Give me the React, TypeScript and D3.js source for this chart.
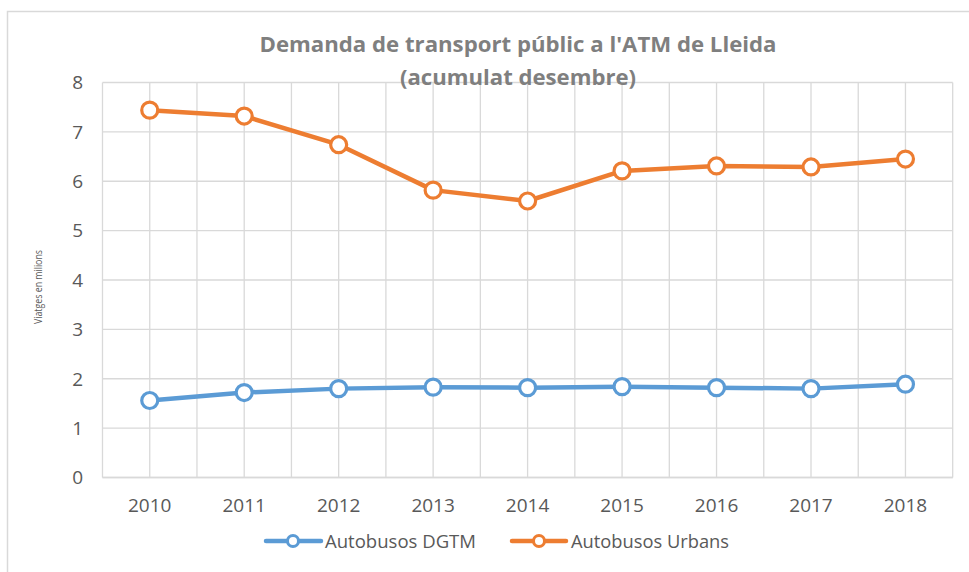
import React from "react";
import * as d3 from "d3";

const years = ["2010", "2011", "2012", "2013", "2014", "2015", "2016", "2017", "2018"];
const dgtm = [1.56, 1.72, 1.8, 1.83, 1.82, 1.84, 1.82, 1.8, 1.89];
const urbans = [7.44, 7.32, 6.74, 5.82, 5.6, 6.21, 6.31, 6.29, 6.45];
const yTicks = [0, 1, 2, 3, 4, 5, 6, 7, 8];
const titleLines = ["Demanda de transport públic a l'ATM de Lleida", "(acumulat desembre)"];
const yTitle = "Viatges en milions";
const seriesNames = ["Autobusos DGTM", "Autobusos Urbans"];

const W = 969;
const H = 572;
const plot = { left: 102.5, right: 952.7, top: 82.5, bottom: 477.5 };
const BLUE = "#5b9bd5";
const ORANGE = "#ed7d31";
const GRID = "#d9d9d9";
const TXT = "#595959";
const FONT = "'Open Sans', 'Noto Sans', sans-serif";

export default function App() {
  const x = d3.scaleBand<string>().domain(years).range([plot.left, plot.right]).padding(0);
  const y = d3.scaleLinear().domain([0, 8]).range([plot.bottom, plot.top]);
  const bw = x.bandwidth();
  const vLines: number[] = [];
  for (let k = 0; k <= years.length * 2; k++) vLines.push(plot.left + (k * bw) / 2);

  const line = d3
    .line<number>()
    .x((_, i) => (x(years[i]) as number) + bw / 2)
    .y((d) => y(d));

  const series = [
    { name: seriesNames[0], values: dgtm, color: BLUE },
    { name: seriesNames[1], values: urbans, color: ORANGE },
  ];

  const legend = [
    { x0: 266, x1: 321, mx: 293, tx: 325, tw: 151, color: BLUE, name: seriesNames[0] },
    { x0: 512, x1: 566, mx: 539, tx: 571, tw: 158, color: ORANGE, name: seriesNames[1] },
  ];

  return (
    <svg
      width={W}
      height={H}
      style={{ position: "absolute", left: 0, top: 0, background: "#fff" }}
      fontFamily={FONT}
    >
      <rect x={0} y={0} width={W} height={H} fill="#fff" />
      <path d={`M7.5,${H + 5}V11.5H${W + 5}`} fill="none" stroke={GRID} strokeWidth={1.5} />

      {/* gridlines */}
      {yTicks.map((t) => (
        <line key={"h" + t} x1={plot.left} x2={plot.right} y1={y(t)} y2={y(t)} stroke={GRID} strokeWidth={1.3} />
      ))}
      {vLines.map((v, i) => (
        <line key={"v" + i} x1={v} x2={v} y1={plot.top} y2={plot.bottom} stroke={GRID} strokeWidth={1.3} />
      ))}
      <line x1={plot.left} x2={plot.right} y1={plot.bottom} y2={plot.bottom} stroke={GRID} strokeWidth={1.6} />

      {/* y tick labels */}
      {yTicks.map((t) => (
        <text key={"yt" + t} x={83} y={y(t)} dy="0.36em" textAnchor="end" fontSize={19} fill={TXT}>
          {t}
        </text>
      ))}
      {/* x tick labels */}
      {years.map((yr) => (
        <text key={"xt" + yr} x={(x(yr) as number) + bw / 2} y={512} textAnchor="middle" fontSize={19} fill={TXT}>
          {yr}
        </text>
      ))}

      {/* y title */}
      <text
        transform={`translate(42,287) rotate(-90)`}
        textAnchor="middle"
        fontSize={10.5}
        fill={TXT}
        textLength={74}
        lengthAdjust="spacingAndGlyphs"
      >
        {yTitle}
      </text>

      {/* title */}
      <text x={518} y={52} textAnchor="middle" fontSize={21} fontWeight="bold" fill="#7f7f7f" textLength={517} lengthAdjust="spacingAndGlyphs">
        {titleLines[0]}
      </text>
      <text x={518} y={85} textAnchor="middle" fontSize={21} fontWeight="bold" fill="#7f7f7f" textLength={236} lengthAdjust="spacingAndGlyphs">
        {titleLines[1]}
      </text>

      {/* series */}
      {series.map((s) => (
        <g key={s.name}>
          <path d={line(s.values) as string} fill="none" stroke={s.color} strokeWidth={4.5} strokeLinejoin="round" />
          {s.values.map((v, i) => (
            <circle
              key={i}
              cx={(x(years[i]) as number) + bw / 2}
              cy={y(v)}
              r={8}
              fill="#fff"
              stroke={s.color}
              strokeWidth={3.2}
            />
          ))}
        </g>
      ))}

      {/* legend */}
      {legend.map((l) => (
        <g key={l.name}>
          <line x1={l.x0} x2={l.x1} y1={541} y2={541} stroke={l.color} strokeWidth={4.5} strokeLinecap="round" />
          <circle cx={l.mx} cy={541} r={5.5} fill="#fff" stroke={l.color} strokeWidth={3} />
          <text x={l.tx} y={548} fontSize={18.5} fill={TXT} textLength={l.tw} lengthAdjust="spacingAndGlyphs">
            {l.name}
          </text>
        </g>
      ))}
    </svg>
  );
}
